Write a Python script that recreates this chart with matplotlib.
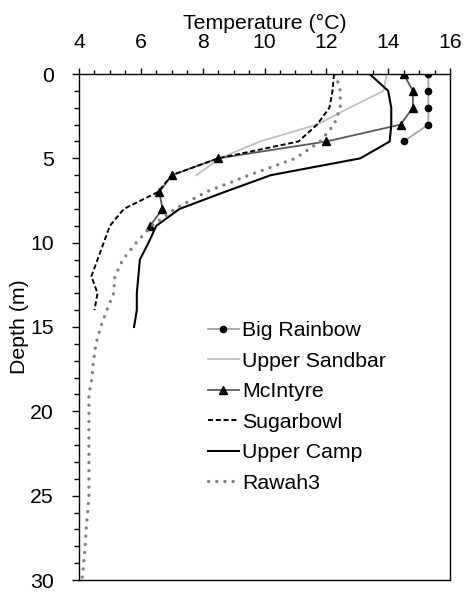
import numpy as np
import matplotlib
matplotlib.use("Agg")
import matplotlib.pyplot as plt
from matplotlib.ticker import MultipleLocator

plt.rcParams['font.family'] = ['Liberation Sans', 'DejaVu Sans']

# depth profiles (temperature in C, depth in m)
big_rainbow_depth = [0, 1, 2, 3, 4]
big_rainbow_temp = [15.3, 15.3, 15.3, 15.3, 14.5]

sandbar_depth = [0, 1, 2, 3, 4, 5, 6]
sandbar_temp = [13.95, 13.85, 12.75, 11.7, 9.85, 8.55, 7.8]

mcintyre_depth = [0, 1, 2, 3, 4, 5, 6, 7, 8, 9]
mcintyre_temp = [14.5, 14.8, 14.8, 14.4, 12.0, 8.5, 7.0, 6.6, 6.7, 6.3]

sugarbowl_depth = [0, 1, 2, 3, 4, 5, 6, 7, 8, 9, 10, 11, 12, 13, 14]
sugarbowl_temp = [12.25, 12.2, 12.1, 11.7, 11.1, 8.5, 7.0, 6.55, 5.45, 5.0,
                  4.8, 4.6, 4.4, 4.6, 4.5]

camp_depth = [0, 1, 2, 3, 4, 5, 6, 7, 8, 9, 10, 11, 12, 13, 14, 15]
camp_temp = [13.4, 14.0, 14.1, 14.1, 14.05, 13.1, 10.2, 8.7, 7.25, 6.5,
             6.25, 5.97, 5.92, 5.87, 5.87, 5.78]

rawah_depth = list(range(0, 31))
rawah_temp = [12.3, 12.45, 12.45, 12.25, 11.8, 11.0, 9.5, 8.1, 7.1, 6.35,
              5.85, 5.42, 5.16, 5.12, 4.9, 4.7, 4.55, 4.47, 4.42, 4.32,
              4.32, 4.32, 4.32, 4.32, 4.32, 4.32, 4.28, 4.23, 4.2, 4.15, 4.1]

fig = plt.figure(figsize=(4.63, 5.92), dpi=100)
ax = fig.add_axes([79 / 463, 1 - 580 / 592, 371 / 463, 506 / 592])

ax.plot(big_rainbow_temp, big_rainbow_depth, color='#a6a6a6', lw=1.3,
        marker='o', ms=4.5, mfc='black', mec='black', label='Big Rainbow')
ax.plot(sandbar_temp, sandbar_depth, color='#bfbfbf', lw=1.3, label='Upper Sandbar')
ax.plot(mcintyre_temp, mcintyre_depth, color='#595959', lw=1.3,
        marker='^', ms=5.5, mfc='black', mec='black', label='McIntyre')
ax.plot(sugarbowl_temp, sugarbowl_depth, color='black', lw=1.4,
        linestyle=(0, (2.6, 1.4)), label='Sugarbowl')
ax.plot(camp_temp, camp_depth, color='black', lw=1.5, label='Upper Camp')
ax.plot(rawah_temp, rawah_depth, color='#808080', lw=2.4,
        linestyle=(0, (0.01, 2.45)), dash_capstyle='round', label='Rawah3')

ax.set_xlim(4, 16)
ax.set_ylim(30, 0)
ax.xaxis.set_major_locator(MultipleLocator(2))
ax.xaxis.set_minor_locator(MultipleLocator(0.5))
ax.yaxis.set_major_locator(MultipleLocator(5))
ax.yaxis.set_minor_locator(MultipleLocator(1))
ax.xaxis.tick_top()
ax.xaxis.set_label_position('top')
ax.tick_params(axis='both', which='both', direction='out', labelsize=15.3, width=1)
ax.tick_params(axis='y', which='major', length=5, pad=13)
ax.tick_params(axis='y', which='minor', length=3.5)
ax.tick_params(axis='x', which='major', length=4, pad=12)
ax.tick_params(axis='x', which='minor', length=3)
for s in ax.spines.values():
    s.set_linewidth(1.0)

ax.set_xlabel('Temperature (°C)', fontsize=15.3, labelpad=3)
ax.set_ylabel('Depth (m)', fontsize=15.3, labelpad=1)

ax.legend(loc='upper left', bbox_to_anchor=(0.325, 0.528), frameon=False,
          fontsize=15.3, handlelength=1.45, handletextpad=0.15, labelspacing=0.54,
          borderaxespad=0)

fig.savefig('out.png', dpi=100)
